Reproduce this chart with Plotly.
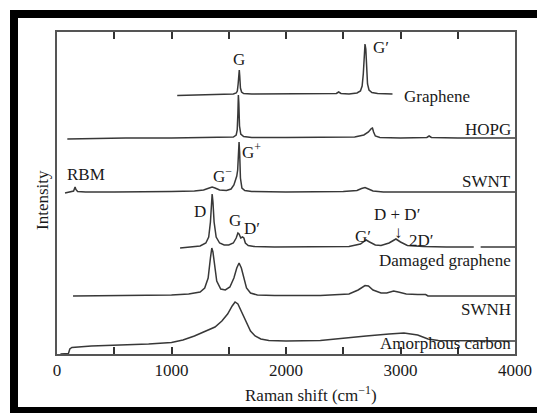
import plotly.graph_objects as go

# ---------------- data ----------------
# Raman shift (cm^-1) and relative intensity (arbitrary units, above each trace's own baseline)
graphene_x = [1050, 1200, 1400, 1540, 1565, 1575, 1582, 1588, 1592, 1596, 1602, 1612, 1630, 1700, 2000, 2300,
              2440, 2460, 2480, 2550, 2620, 2650, 2665, 2675, 2683, 2690, 2697, 2703, 2712, 2725, 2750, 2800, 2930]
graphene_y = [-1.5, -1, -0.5, 0, 1, 3, 10, 22, 24, 18, 6, 2, 0.5, 0, 0, 0,
              0.5, 2, 0.5, 0, 1, 3, 8, 20, 40, 50, 45, 28, 10, 4, 1.5, 0.5, 0]

hopg_x = [90, 300, 600, 1000, 1400, 1540, 1565, 1574, 1580, 1584, 1588, 1594, 1605, 1630, 1700, 2000, 2400,
          2600, 2680, 2720, 2745, 2755, 2765, 2780, 2820, 3000, 3230, 3250, 3270, 3500, 4000]
hopg_y = [-1, -0.5, 0, 0, 0.5, 1, 3, 8, 25, 43, 35, 12, 4, 1.5, 0.5, 0.5, 0.5,
          1, 3, 6, 9.5, 10, 6, 2, 0.5, 0, 0.5, 2, 0.5, 0, 0]

swnt_x = [70, 120, 145, 158, 165, 180, 250, 500, 800, 1000, 1200, 1280, 1330, 1355, 1380, 1420, 1480,
          1520, 1545, 1560, 1570, 1578, 1585, 1590, 1595, 1602, 1615, 1640, 1700, 2000, 2500, 2620, 2660,
          2690, 2720, 2760, 2850, 3500, 4000]
swnt_y = [-1, 0, 1, 5, 2.5, 0.5, 0, 0, 0, 0.5, 1, 2, 4, 5, 4, 2, 1.5,
          3, 7, 13, 16, 22, 40, 50, 40, 14, 4, 1.5, 0.5, 0, 0.5, 1.5, 3.5,
          4.5, 3, 1, 0, 0, 0]

damaged_x = [1075, 1150, 1250, 1300, 1325, 1340, 1350, 1355, 1362, 1372, 1390, 1420, 1460, 1500, 1540, 1565,
             1580, 1590, 1605, 1620, 1632, 1645, 1670, 1720, 1900, 2300, 2550, 2650, 2700, 2730, 2780, 2830,
             2900, 2960, 3000, 3060, 3200, 3400, 3640, None, 3700, 4000]
damaged_y = [-1, 0, 1, 4, 10, 25, 48, 53, 45, 25, 10, 4, 2, 2, 4, 9,
             14, 13, 9, 10, 9, 4, 1.5, 0.5, 0, 0, 0.5, 3, 7, 5, 2, 1.5,
             4, 8, 5, 1.5, 0.5, 0, 0, None, 0, 0]

swnh_x = [140, 500, 1000, 1150, 1250, 1290, 1320, 1340, 1352, 1362, 1375, 1395, 1430, 1470, 1510, 1545,
          1570, 1590, 1610, 1630, 1655, 1690, 1750, 1900, 2300, 2550, 2630, 2690, 2720, 2760, 2830, 2880,
          2940, 2980, 3050, 3150, 3220, 3240, 4000]
swnh_y = [0, 0.5, 1, 2, 4, 8, 18, 38, 48, 44, 30, 15, 7, 6, 9, 18,
          28, 33, 28, 18, 8, 3, 1, 0.5, 0.5, 2, 6, 10.5, 10, 6, 3, 3,
          5, 4, 2, 1.5, 1.5, 0, 0]

amorphous_x = [30, 100, 112, 130, 300, 500, 800, 1000, 1100, 1200, 1300, 1380, 1440, 1490, 1530, 1555,
               1580, 1610, 1650, 1690, 1730, 1780, 1850, 2000, 2300, 2500, 2700, 2900, 3030, 3150, 3240,
               3330, 3600, 4000]
amorphous_y = [0, 0.5, 5, 6.5, 8, 8.5, 10, 11.5, 14, 18, 23, 27, 33, 40, 48, 52,
               50, 43, 32, 23, 18, 15, 13.5, 13, 13.5, 16, 18, 20, 21, 19, 15,
               13.5, 13, 13]

# ---------------- layout geometry (pixels) ----------------
W, H = 537, 413
L, R, T, B = 57, 22, 32, 59
PW, PH = W - L - R, H - T - B


def px(x):
    return (x - L) / PW


def py(y):
    return (H - B - y) / PH


# vertical stacking offsets of each spectrum (axis units = pixels)
offsets = {"graphene": 260, "hopg": 216, "swnt": 162, "damaged": 107, "swnh": 58, "amorphous": 0}

LINE = dict(color="#383838", width=1.5)
FONT = "Liberation Serif, Times New Roman, serif"
FS = 17

fig = go.Figure()
for name, xs, ys in [("graphene", graphene_x, graphene_y), ("hopg", hopg_x, hopg_y),
                     ("swnt", swnt_x, swnt_y), ("damaged", damaged_x, damaged_y),
                     ("swnh", swnh_x, swnh_y), ("amorphous", amorphous_x, amorphous_y)]:
    off = offsets[name]
    fig.add_trace(go.Scatter(x=xs, y=[None if v is None else v + off for v in ys],
                             mode="lines", line=LINE, showlegend=False, hoverinfo="skip",
                             connectgaps=False))

# text labels: (text, x px, y px, anchor)
labels = [
    ("G", 239, 59, "center"),
    ("G′", 381, 47, "center"),
    ("Graphene", 402, 96, "left"),
    ("HOPG", 513, 129, "right"),
    ("SWNT", 513, 181, "right"),
    ("RBM", 86, 174, "center"),
    ("G<sup>−</sup>", 222, 175, "center"),
    ("G<sup>+</sup>", 251, 151, "center"),
    ("D", 200, 212, "center"),
    ("G", 235, 221, "center"),
    ("D′", 252, 228, "center"),
    ("G′", 363, 236, "center"),
    ("D + D′", 397, 214, "center"),
    ("↓", 398, 232, "center"),
    ("2D′", 421, 240, "center"),
    ("Damaged graphene", 513, 260, "right"),
    ("SWNH", 513, 309, "right"),
    ("Amorphous carbon", 513, 343, "right"),
]
annotations = []
for text, x, y, anchor in labels:
    annotations.append(dict(text=text, x=px(x), y=py(y), xref="paper", yref="paper",
                            xanchor=anchor, yanchor="middle", showarrow=False,
                            font=dict(family=FONT, size=FS, color="#1a1a1a")))

annotations.append(dict(text="Raman shift (cm<sup>−1</sup>)", x=px(311), y=py(394), xref="paper", yref="paper",
                        xanchor="center", yanchor="middle", showarrow=False,
                        font=dict(family=FONT, size=FS, color="#1a1a1a")))
annotations.append(dict(text="Intensity", x=px(42), y=py(200), xref="paper", yref="paper",
                        xanchor="center", yanchor="middle", showarrow=False, textangle=-90,
                        font=dict(family=FONT, size=FS, color="#1a1a1a")))

# black frame bands around the figure
shapes = [
    dict(type="rect", xref="paper", yref="paper", x0=px(10), x1=px(537), y0=py(18), y1=py(10),
         fillcolor="black", line=dict(width=0), layer="above"),
    dict(type="rect", xref="paper", yref="paper", x0=px(10), x1=px(18), y0=py(413), y1=py(10),
         fillcolor="black", line=dict(width=0), layer="above"),
    dict(type="rect", xref="paper", yref="paper", x0=px(10), x1=px(537), y0=py(413), y1=py(407),
         fillcolor="black", line=dict(width=0), layer="above"),
]

fig.update_layout(
    width=W, height=H, autosize=False,
    margin=dict(l=L, r=R, t=T, b=B, pad=0, autoexpand=False),
    paper_bgcolor="white", plot_bgcolor="white",
    annotations=annotations, shapes=shapes,
    xaxis=dict(range=[0, 4000], dtick=1000, tick0=0, automargin=False,
               ticks="inside", ticklen=7, tickwidth=1.5, tickcolor="#333",
               minor=dict(dtick=500, tick0=0, ticks="inside", ticklen=7, tickwidth=1.5, tickcolor="#333",
                          showgrid=False),
               showline=True, linecolor="#555", linewidth=1.5, mirror="ticks",
               showgrid=False, zeroline=False,
               tickfont=dict(family=FONT, size=FS, color="#1a1a1a")),
    yaxis=dict(range=[0, PH], showticklabels=False, ticks="", showline=True, linecolor="#555",
               linewidth=1.5, mirror=True, showgrid=False, zeroline=False, automargin=False),
)

fig.write_html(
    "out.html",
    config={"displayModeBar": False},
    post_script=("document.body.style.margin='0';"
                 "document.body.style.overflow='hidden';"
                 "document.documentElement.style.overflow='hidden';"),
)
